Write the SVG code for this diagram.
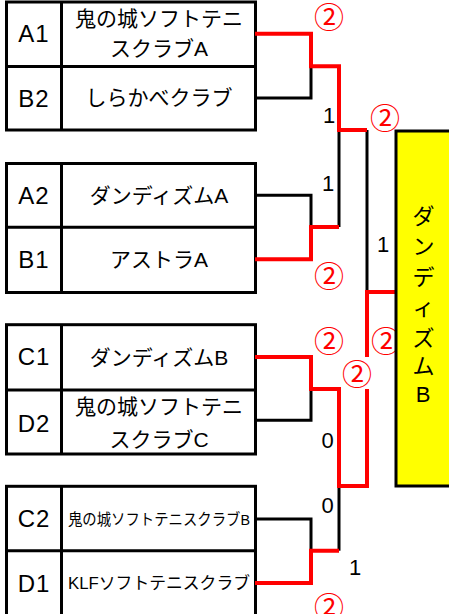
<svg xmlns="http://www.w3.org/2000/svg" width="449" height="614" viewBox="0 0 449 614">
<style>
.box{fill:#fff;stroke:#000;stroke-width:3}
.ln{fill:none;stroke:#000;stroke-width:3}
.bk{fill:none;stroke:#000;stroke-width:3}
.rd{fill:none;stroke:#ff0000;stroke-width:4}
.code{font-family:"Liberation Sans","Noto Sans CJK JP",sans-serif;font-size:24px;text-anchor:middle;fill:#000;letter-spacing:1px}
.name{font-family:"Liberation Sans","Noto Sans CJK JP",sans-serif;font-size:21px;text-anchor:middle;fill:#000}
.num{font-family:"Liberation Sans",sans-serif;font-size:22px;text-anchor:middle;fill:#000}
.mk{font-family:"Noto Sans CJK JP",sans-serif;font-size:30px;text-anchor:middle;fill:#ff0000}
.vt{font-family:"Liberation Sans","Noto Sans CJK JP",sans-serif;font-size:22px;text-anchor:middle;fill:#000}
</style>
<rect width="449" height="614" fill="#fff"/>

<g id="block-1">
<rect class="box" x="6.5" y="2" width="249" height="128"/>
<path class="ln" d="M6.5,66.5H255.5M61.5,2V130"/>
<text class="code" x="34" y="41.6">A1</text>
<text class="code" x="34" y="106.6">B2</text>
<text class="name" x="159" y="26">鬼の城ソフトテニ</text>
<text class="name" x="159" y="56">スクラブA</text>
<text class="name" x="159" y="105">しらかべクラブ</text>
</g>

<g id="block-2">
<rect class="box" x="6.5" y="163.5" width="249" height="129"/>
<path class="ln" d="M6.5,227.3H255.5M61.5,163.5V292.5"/>
<text class="code" x="34" y="203.6">A2</text>
<text class="code" x="34" y="267.6">B1</text>
<text class="name" x="159" y="203">ダンディズムA</text>
<text class="name" x="159" y="267">アストラA</text>
</g>

<g id="block-3">
<rect class="box" x="6.5" y="324.7" width="249" height="129.3"/>
<path class="ln" d="M6.5,390H255.5M61.5,324.7V454"/>
<text class="code" x="34" y="365.3">C1</text>
<text class="code" x="34" y="431.6">D2</text>
<text class="name" x="159" y="365">ダンディズムB</text>
<text class="name" x="159" y="414">鬼の城ソフトテニ</text>
<text class="name" x="159" y="447">スクラブC</text>
</g>

<g id="block-4">
<rect class="box" x="6.5" y="486.3" width="249" height="140"/>
<path class="ln" d="M6.5,550.7H255.5M61.5,486.3V626"/>
<text class="code" x="34" y="526.6">C2</text>
<text class="code" x="34" y="591.6">D1</text>
<text class="name" x="159" y="525" style="font-size:15.5px" textLength="182" lengthAdjust="spacingAndGlyphs">鬼の城ソフトテニスクラブB</text>
<text class="name" x="159" y="588.5" style="font-size:17px" textLength="182" lengthAdjust="spacingAndGlyphs">KLFソフトテニスクラブ</text>
</g>

<g id="connectors">
<path class="bk" d="M255,98H311V66"/>
<path class="bk" d="M255,195.3H311V227"/>
<path class="bk" d="M339,227V130"/>
<path class="bk" d="M367,130V292"/>
<path class="bk" d="M255,420.3H311V389"/>
<path class="bk" d="M255,519H311V550.7"/>
<path class="bk" d="M339,550.7V486"/>
<path class="rd" d="M255,33.7H311V66.3H339V130H367"/>
<path class="rd" d="M255,259.3H311V227H339"/>
<path class="rd" d="M396,292H367V357"/>
<path class="rd" d="M255,357H311V389H339V486H367V389"/>
<path class="rd" d="M255,583H311V550.7H339"/>
</g>

<g id="scores">
<text class="num" x="329" y="123">1</text>
<text class="num" x="328" y="191">1</text>
<text class="num" x="383" y="252">1</text>
<text class="num" x="327.5" y="448">0</text>
<text class="num" x="327.5" y="513">0</text>
<text class="num" x="355" y="575">1</text>
<text class="mk" x="329" y="27.5">②</text>
<text class="mk" x="385" y="128.5">②</text>
<text class="mk" x="329" y="286.5">②</text>
<text class="mk" x="329" y="351.5">②</text>
<text class="mk" x="357" y="385">②</text>
<text class="mk" x="386" y="351.5">②</text>
<text class="mk" x="329" y="617.5">②</text>
</g>

<g id="winner">
<rect x="396" y="131" width="60" height="355" fill="#ffff00" stroke="#000" stroke-width="3"/>
<text class="vt" x="423.5" y="224.4">ダ</text>
<text class="vt" x="423.5" y="254.4">ン</text>
<text class="vt" x="423.5" y="285">デ</text>
<text class="vt" x="423.5" y="314.5">ィ</text>
<text class="vt" x="423.5" y="345.5">ズ</text>
<text class="vt" x="423.5" y="374">ム</text>
<text class="vt" x="423" y="402.4">B</text>
</g>
</svg>
